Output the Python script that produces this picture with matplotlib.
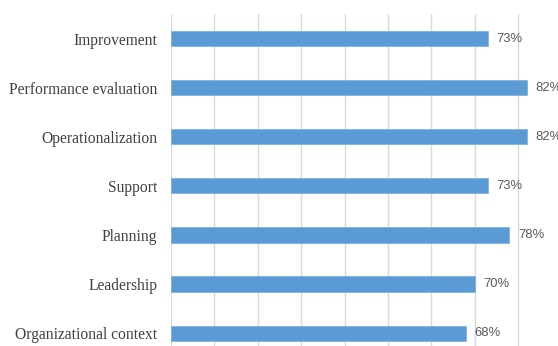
import matplotlib
matplotlib.use('Agg')
import matplotlib.pyplot as plt
import numpy as np

categories = ['Organizational context', 'Leadership', 'Planning', 'Support',
              'Operationalization', 'Performance evaluation', 'Improvement']
values = [0.68, 0.70, 0.78, 0.73, 0.82, 0.82, 0.73]
labels = ['68%', '70%', '78%', '73%', '82%', '82%', '73%']

fig = plt.figure(figsize=(5.58, 3.46), dpi=100)
# plot area is cropped at the right and bottom edges in the reference
ax = fig.add_axes([0.3065, -0.0339, 0.7774, 0.9934])

y = np.arange(len(categories))
ax.barh(y, values, height=0.31, color='#5b9bd5', edgecolor='#7fb2e0', linewidth=0.6, zorder=3)

for yi, v, lab in zip(y, values, labels):
    ax.text(v + 0.02, yi, lab, va='center', ha='left', fontsize=9.4,
            family='Liberation Sans', color='#595959')

ax.set_xlim(0, 1.0)
ax.set_ylim(-0.5, len(categories) - 0.5)
ax.set_xticks(np.arange(0, 1.01, 0.1))
ax.xaxis.grid(True, color='#d9d9d9', linewidth=1, zorder=0)
ax.tick_params(axis='x', length=0, labelbottom=False)
ax.tick_params(axis='y', length=0, pad=10)
ax.set_yticks(y)
ax.set_yticklabels(categories, fontsize=11.2, family='Liberation Serif', color='#404040')
for s in ax.spines.values():
    s.set_visible(False)

plt.savefig('out.png', dpi=100)
